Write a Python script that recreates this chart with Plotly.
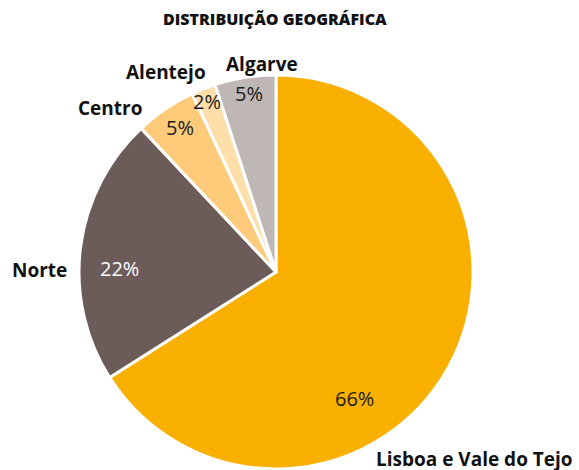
import plotly.graph_objects as go

regions = ["Lisboa e Vale do Tejo", "Norte", "Centro", "Alentejo", "Algarve"]
shares = [66, 22, 5, 2, 5]
colors = ["#F9B000", "#6B5C5A", "#FDCB7A", "#FEDFA9", "#BFB7B5"]
pct_colors = ["#1a1a1a", "#ffffff", "#1a1a1a", "#1a1a1a", "#1a1a1a"]

W, H = 579, 470
cx, cy, R = 276, 272, 197
FONT = "Open Sans"

# label / percentage positions (pixels, centre of text)
label_pos = [(474, 459), (39, 270), (110, 108), (166, 72), (262, 64)]
pct_pos = [(354, 398), (120, 268), (180, 127), (207, 101), (249, 93)]

fig = go.Figure(go.Pie(
    labels=regions, values=shares, sort=False, direction="clockwise", rotation=0,
    marker=dict(colors=colors, line=dict(color="white", width=3)),
    textinfo="none", hoverinfo="label+percent", showlegend=False,
    domain=dict(x=[(cx - R) / W, (cx + R) / W], y=[(H - cy - R) / H, (H - cy + R) / H]),
))

def A(text, x, y, size, color, weight=None, family=FONT):
    f = dict(family=family, size=size, color=color)
    if weight:
        f["weight"] = weight
    return dict(text=text, x=x / W, y=1 - y / H, xref="paper", yref="paper",
                xanchor="center", yanchor="middle", showarrow=False, font=f)

ann = [A("DISTRIBUIÇÃO GEOGRÁFICA", 275, 19, 16, "#111", weight=800)]
total = sum(shares)
for name, v, (lx, ly), (px, py), pc in zip(regions, shares, label_pos, pct_pos, pct_colors):
    ann.append(A(f"<b>{name}</b>", lx, ly, 19, "#111"))
    ann.append(A(f"{round(100 * v / total)}%", px, py, 20, pc, weight=400))

fig.update_layout(width=W, height=H, margin=dict(l=0, r=0, t=0, b=0),
                  paper_bgcolor="white", annotations=ann)
fig.write_html("out.html", config={"displayModeBar": False},
               post_script="document.body.style.margin='0';document.body.style.overflow='hidden';")
